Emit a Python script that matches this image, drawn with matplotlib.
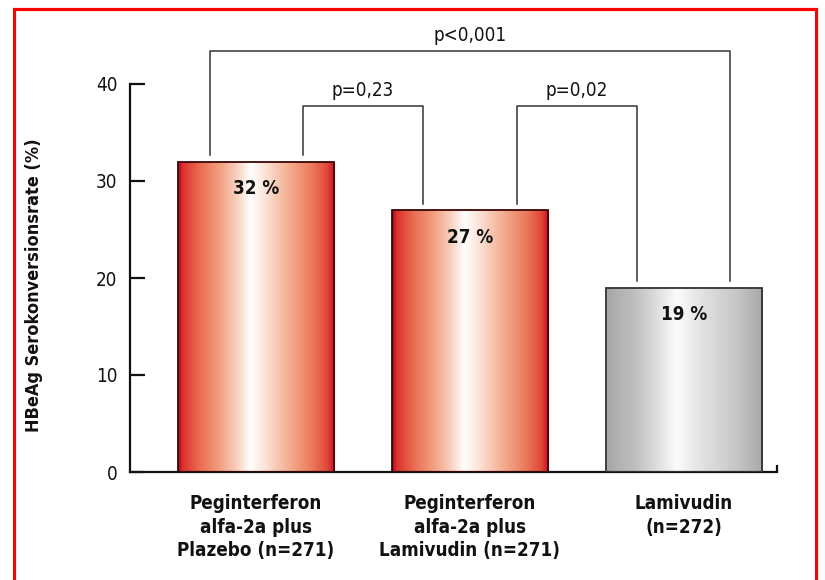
import matplotlib
matplotlib.use("Agg")
import matplotlib.pyplot as plt
import numpy as np
from matplotlib.colors import LinearSegmentedColormap
from matplotlib.patches import Rectangle

# --- data -------------------------------------------------------------
categories = [
    "Peginterferon\nalfa-2a plus\nPlazebo (n=271)",
    "Peginterferon\nalfa-2a plus\nLamivudin (n=271)",
    "Lamivudin\n(n=272)",
]
rates = [32, 27, 19]
rate_labels = ["32 %", "27 %", "19 %"]
comparison_pairs = [(0, 1), (1, 2), (0, 2)]
p_labels = ["p=0,23", "p=0,02", "p<0,001"]
y_ticks = [0, 10, 20, 30, 40]
bar_kinds = ["red", "red", "gray"]

# --- style ------------------------------------------------------------
plt.rcParams["font.family"] = ["DejaVu Sans"]
plt.rcParams["font.stretch"] = "condensed"

red_cmap = LinearSegmentedColormap.from_list(
    "redglow",
    [(0.00, "#bc001a"), (0.03, "#dc3230"), (0.12, "#e8644b"),
     (0.26, "#f29e7e"), (0.38, "#f9d3c1"), (0.46, "#ffffff"),
     (0.56, "#fbe2d5"), (0.70, "#f4b193"), (0.85, "#ec7c5e"),
     (0.95, "#e14a3a"), (1.00, "#c8102a")])
gray_cmap = LinearSegmentedColormap.from_list(
    "grayglow",
    [(0.00, "#a6a6a6"), (0.20, "#c2c2c2"), (0.45, "#fbfbfb"),
     (0.60, "#e4e4e4"), (0.85, "#c4c4c4"), (1.00, "#a8a8a8")])
cmaps = {"red": red_cmap, "gray": gray_cmap}
edges = {"red": "#3a0505", "gray": "#333333"}

fig = plt.figure(figsize=(8.25, 5.8), dpi=100)
ax = fig.add_axes([130 / 825, 108 / 580, 647 / 825, 388 / 580])

x = np.arange(len(rates))
width = 0.73
bars = ax.bar(x, rates, width=width, facecolor="none", linewidth=1.3,
              edgecolor=[edges[k] for k in bar_kinds], zorder=3)

# horizontal glow gradient inside every bar
grad = np.linspace(0, 1, 256).reshape(1, -1)
for bar, kind in zip(bars, bar_kinds):
    bx, bw, bh = bar.get_x(), bar.get_width(), bar.get_height()
    im = ax.imshow(grad, cmap=cmaps[kind], aspect="auto",
                   extent=[bx, bx + bw, 0, bh], zorder=2,
                   interpolation="bicubic")
    im.set_clip_path(bar)

xmin, xmax = -0.589, 2.435
ax.set_xlim(xmin, xmax)
ax.set_ylim(0, 40)

# value labels inside the bars
for xi, v, lab in zip(x, rates, rate_labels):
    ax.text(xi, v - 2.8, lab, ha="center", va="center",
            fontsize=13.5, fontweight="bold", color="#111111", zorder=4)

# significance brackets
leg_gap = 0.65
for (i, j), lab in zip(comparison_pairs, p_labels):
    outer = (j - i) > 1
    level = 43.4 if outer else 37.7
    if outer:
        xl, xr = x[i] - 0.215, x[j] + 0.215
    else:
        xl, xr = x[i] + 0.22, x[j] - 0.22
    ax.plot([xl, xl, xr, xr],
            [rates[i] + leg_gap, level, level, rates[j] + leg_gap],
            color="#333333", linewidth=1.1, clip_on=False, zorder=3)
    ax.text((xl + xr) / 2, level + 0.6, lab, ha="center", va="bottom",
            fontsize=13.5, color="#111111", clip_on=False)

# axes
for side in ["top", "right"]:
    ax.spines[side].set_visible(False)
ax.spines["left"].set_linewidth(1.6)
ax.spines["bottom"].set_linewidth(1.6)
ax.spines["left"].set_color("#111111")
ax.spines["bottom"].set_color("#111111")
ax.plot([xmax, xmax], [0, 0.75], color="#111111", linewidth=1.6,
        clip_on=False, solid_capstyle="butt")

ax.set_yticks(y_ticks)
ax.set_yticklabels([str(t) for t in y_ticks])
ax.tick_params(axis="y", direction="in", length=11, width=1.6,
               pad=9, labelsize=13.5, colors="#111111")
ax.set_xticks(x)
ax.set_xticklabels(categories, fontweight="bold", fontsize=13.5,
                   linespacing=1.3)
ax.tick_params(axis="x", length=0, pad=16, colors="#111111")

ax.set_ylabel("HBeAg Serokonversionsrate (%)", fontsize=13,
              fontweight="bold", color="#111111")
ax.yaxis.set_label_coords(-0.134, 0.482)

# red frame around the figure (open at the bottom edge)
fig.patches.append(Rectangle((14 / 825, -0.1), 802 / 825, 1.1 - 9 / 580,
                             transform=fig.transFigure, fill=False,
                             edgecolor="#ff0000", linewidth=2.3,
                             zorder=0))

fig.savefig("out.png", dpi=100, facecolor="white")
